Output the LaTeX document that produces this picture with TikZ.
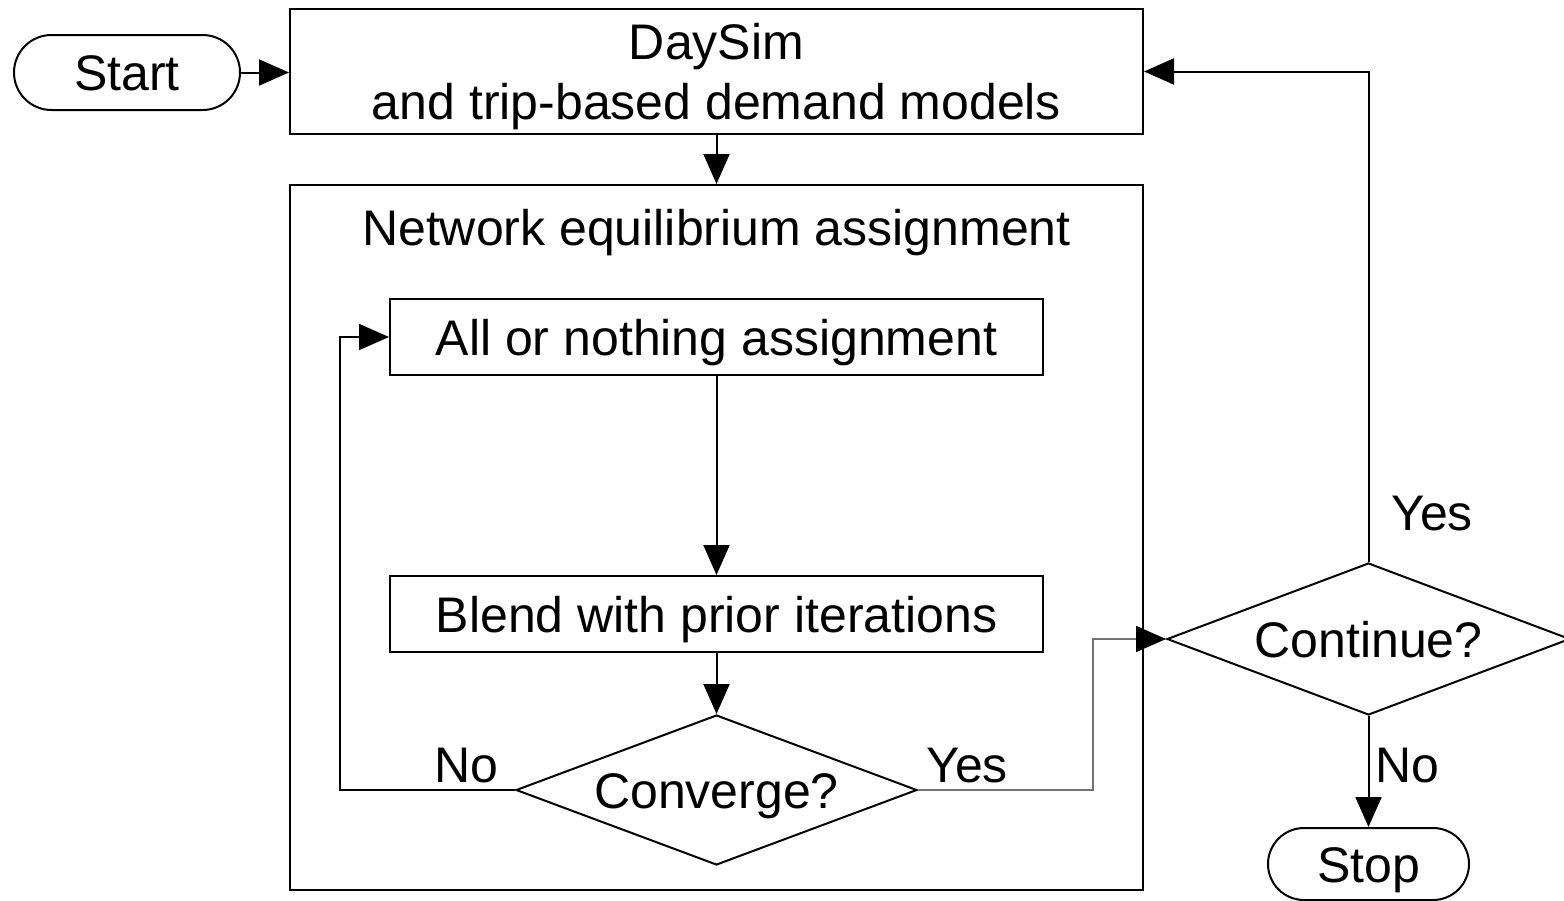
\documentclass[tikz,border=0pt]{standalone}
\usepackage{fontspec}
\setmainfont{Liberation Sans}
\usetikzlibrary{shapes.misc,shapes.geometric,arrows.meta}
\begin{document}
\begin{tikzpicture}[x=1pt,y=-1pt,
  font=\fontsize{50}{60}\selectfont,
  line width=2pt,
  every node/.style={text height=36pt, text depth=0pt},
  box/.style={draw, rectangle, inner sep=0pt, line width=2pt},
  term/.style={draw, rounded rectangle, inner sep=0pt, line width=2pt},
  decision/.style={draw, diamond, aspect=2.67, inner sep=0pt, line width=2pt},
  lbl/.style={inner sep=0pt},
  flow/.style={-{Triangle[length=30pt,width=26pt]}, line width=2pt},
  thinflow/.style={-{Triangle[length=30pt,width=26pt,color=black]}, line width=1.5pt, draw=black!55}
]
\useasboundingbox (0,0) rectangle (1564,900);

\node[term, minimum width=226pt, minimum height=75pt] (start) at (127,72.5) {Start};
\node[box, minimum width=853pt, minimum height=125pt, align=center, text height=, text depth=0pt] (daysim) at (716.5,71.5) {DaySim\\and trip-based demand models};
\node[box, minimum width=853pt, minimum height=705pt] (outer) at (716.5,537.5) {};
\node[lbl] (title) at (716.5,227) {Network equilibrium assignment};
\node[box, minimum width=653pt, minimum height=76pt] (aon) at (716.5,337) {All or nothing assignment};
\node[box, minimum width=653pt, minimum height=76pt] (blend) at (716.5,614) {Blend with prior iterations};
\node[decision, minimum width=401pt, minimum height=150pt] (conv) at (716.5,790) {Converge?};
\node[decision, minimum width=403pt, minimum height=152pt] (cont) at (1368.5,639) {Continue?};
\node[term, minimum width=201pt, minimum height=72pt] (stop) at (1368.5,864) {Stop};

\node[lbl] (no1) at (466,764) {No};
\node[lbl] (yes1) at (967,764) {Yes};
\node[lbl] (yes2) at (1432,512) {Yes};
\node[lbl] (no2) at (1407,764) {No};

\coordinate (nocorner) at (340,790);
\coordinate (yescorner) at (1093,790);

\draw[flow] (start.east) -- (daysim.west |- start.east);
\draw[flow] (daysim.south) -- (outer.north);
\draw[flow] (aon.south) -- (blend.north);
\draw[flow] (blend.south) -- (conv.north);
\draw[flow] (conv.west) -- (nocorner) |- (aon.west);
\draw[thinflow] (conv.east) -- (yescorner) |- (cont.west);
\draw[flow] (cont.north) |- (daysim.east);
\draw[flow] (cont.south) -- (stop.north);
\end{tikzpicture}
\end{document}
